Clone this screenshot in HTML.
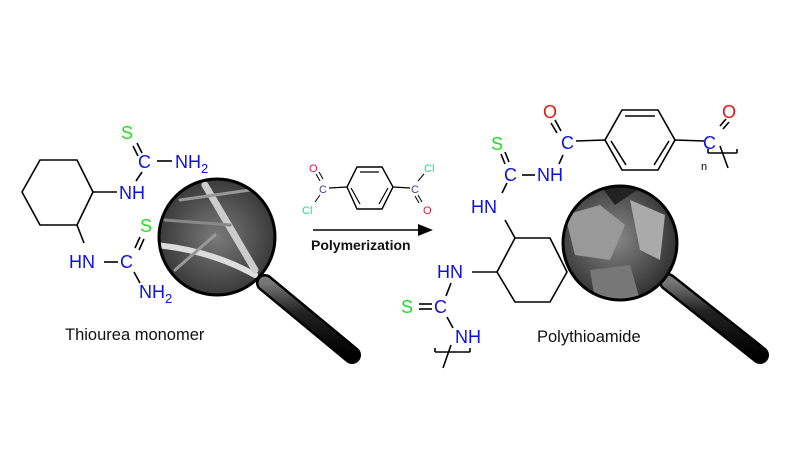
<!DOCTYPE html>
<html><head><meta charset="utf-8"><style>
html,body{margin:0;padding:0;background:#fff;}
svg{display:block}
text{font-family:"Liberation Sans",sans-serif}
</style></head><body>
<svg width="792" height="473" viewBox="0 0 792 473" xmlns="http://www.w3.org/2000/svg">
<defs>
<radialGradient id="g1" cx="50%" cy="50%" r="50%"><stop offset="0" stop-color="#7a7a7a"/><stop offset="1" stop-color="#3a3a3a"/></radialGradient>
<radialGradient id="g2" cx="45%" cy="45%" r="55%"><stop offset="0" stop-color="#8a8a8a"/><stop offset="1" stop-color="#333"/></radialGradient>
<linearGradient id="h" x1="0" y1="0" x2="0" y2="1"><stop offset="0" stop-color="#777"/><stop offset="0.4" stop-color="#222"/><stop offset="1" stop-color="#000"/></linearGradient>
<clipPath id="c1"><circle cx="217" cy="237" r="58"/></clipPath>
<clipPath id="c2"><circle cx="620" cy="243" r="57"/></clipPath>
</defs>
<g stroke="#000" stroke-width="1.6" fill="none">
<polygon points="22,192 40,160 77,160 93,192 77,225 40,225"/>
<line x1="93" y1="192" x2="117" y2="192"/>
<line x1="77" y1="225" x2="84" y2="243"/>
<line x1="136" y1="181" x2="142" y2="172"/>
<line x1="137" y1="143" x2="142" y2="153"/><line x1="133" y1="146" x2="138" y2="156"/>
<line x1="157" y1="161" x2="172" y2="161"/>
<line x1="104" y1="262" x2="118" y2="262"/>
<line x1="140" y1="237" x2="135" y2="248"/><line x1="144" y1="239" x2="139" y2="250"/>
<line x1="134" y1="272" x2="140" y2="283"/>
<polygon points="357,167 382,167 393,187 382,209 357,209 347,187" stroke-width="1.4"/>
<line x1="360" y1="172" x2="379" y2="172" stroke-width="1.2"/>
<line x1="388" y1="188" x2="379" y2="204" stroke-width="1.2"/>
<line x1="351" y1="188" x2="360" y2="204" stroke-width="1.2"/>
<line x1="329" y1="188" x2="347" y2="187" stroke-width="1.2"/>
<line x1="393" y1="187" x2="410" y2="188" stroke-width="1.2"/>
<line x1="316" y1="174" x2="320" y2="181" stroke-width="1"/><line x1="319" y1="172" x2="323" y2="179" stroke-width="1"/>
<line x1="320" y1="195" x2="315" y2="202" stroke-width="1"/>
<line x1="418" y1="181" x2="424" y2="174" stroke-width="1"/>
<line x1="418" y1="195" x2="422" y2="202" stroke-width="1"/><line x1="415" y1="196" x2="419" y2="203" stroke-width="1"/>
<line x1="313" y1="230" x2="422" y2="230"/>
<line x1="505" y1="152" x2="509" y2="162"/><line x1="501" y1="154" x2="505" y2="164"/>
<line x1="522" y1="175" x2="535" y2="175"/>
<line x1="559" y1="164" x2="563" y2="155"/>
<line x1="555" y1="120" x2="561" y2="131"/><line x1="551" y1="123" x2="557" y2="133"/>
<line x1="576" y1="141" x2="605" y2="140"/>
<polygon points="622,110 658,110 675,140 658,170 622,170 605,140"/>
<line x1="625" y1="116" x2="655" y2="116"/>
<line x1="669" y1="141" x2="654" y2="165"/>
<line x1="611" y1="141" x2="626" y2="165"/>
<line x1="675" y1="140" x2="704" y2="141"/>
<line x1="720" y1="126" x2="726" y2="119"/><line x1="723" y1="129" x2="729" y2="122"/>
<line x1="708" y1="153" x2="737" y2="153"/><line x1="708" y1="153" x2="708" y2="149"/><line x1="737" y1="153" x2="737" y2="149"/>
<line x1="720" y1="146" x2="728" y2="168"/>
<line x1="507" y1="183" x2="502" y2="193"/>
<line x1="505" y1="220" x2="515" y2="238"/>
<polygon points="515,238 550,238 567,272 550,302 515,302 497,272"/>
<line x1="472" y1="272" x2="497" y2="272"/>
<line x1="451" y1="283" x2="446" y2="296"/>
<line x1="419" y1="304" x2="432" y2="304"/><line x1="419" y1="309" x2="432" y2="309"/>
<line x1="447" y1="317" x2="453" y2="328"/>
<line x1="435" y1="352" x2="470" y2="352"/><line x1="435" y1="352" x2="435" y2="348"/><line x1="470" y1="352" x2="470" y2="348"/>
<line x1="451" y1="345" x2="443" y2="368"/>
</g>
<polygon points="433,230 418,224 418,236" fill="#000"/>
<line x1="265" y1="283" x2="352" y2="355" stroke="#000" stroke-width="18" stroke-linecap="round"/>
<line x1="265" y1="283" x2="352" y2="355" stroke="url(#h)" stroke-width="13" stroke-linecap="round"/>
<circle cx="217" cy="237" r="58" fill="url(#g1)"/>
<g clip-path="url(#c1)" stroke-linecap="round" fill="none">
<path d="M155,245 Q210,250 255,275" stroke="#ddd" stroke-width="6"/>
<path d="M205,185 L255,270" stroke="#ccc" stroke-width="7"/>
<path d="M180,200 L250,190" stroke="#999" stroke-width="3"/>
<path d="M165,220 L230,225" stroke="#888" stroke-width="3"/>
<path d="M175,270 L215,235" stroke="#999" stroke-width="3"/>
</g>
<circle cx="217" cy="237" r="58" fill="none" stroke="#000" stroke-width="3"/>
<line x1="668" y1="282" x2="760" y2="355" stroke="#000" stroke-width="18" stroke-linecap="round"/>
<line x1="668" y1="282" x2="760" y2="355" stroke="url(#h)" stroke-width="13" stroke-linecap="round"/>
<circle cx="620" cy="243" r="57" fill="url(#g2)"/>
<g clip-path="url(#c2)">
<path d="M565,215 L600,205 L625,225 L610,260 L575,255 Z" fill="#999"/>
<path d="M630,200 L665,215 L660,260 L640,250 Z" fill="#aaa"/>
<path d="M590,270 L630,265 L640,300 L595,300 Z" fill="#777"/>
<path d="M600,185 L640,188 L615,205 Z" fill="#222"/>
</g>
<circle cx="620" cy="243" r="57" fill="none" stroke="#000" stroke-width="3"/>
<g font-size="18" fill="#1010e0">
<text x="119" y="199">NH</text>
<text x="138" y="168">C</text>
<text x="175" y="168">NH<tspan font-size="13" dy="5">2</tspan></text>
<text x="69" y="268">HN</text>
<text x="120" y="268">C</text>
<text x="139" y="298">NH<tspan font-size="13" dy="5">2</tspan></text>
<text x="504" y="181">C</text>
<text x="537" y="181">NH</text>
<text x="561" y="149">C</text>
<text x="703" y="149">C</text>
<text x="471" y="213">HN</text>
<text x="437" y="278">HN</text>
<text x="434" y="313">C</text>
<text x="455" y="343">NH</text>
</g>
<g font-size="18" fill="#22dd22">
<text x="121" y="139">S</text>
<text x="140" y="232">S</text>
<text x="491" y="150">S</text>
<text x="401" y="313">S</text>
</g>
<g font-size="18" fill="#ee1111">
<text x="543" y="118">O</text>
<text x="722" y="118">O</text>
</g>
<g font-size="11">
<text x="309" y="172" fill="#ee1133">O</text>
<text x="319" y="193" fill="#404090">C</text>
<text x="302" y="214" fill="#22dd88">Cl</text>
<text x="411" y="193" fill="#404090">C</text>
<text x="424" y="172" fill="#22dd88">Cl</text>
<text x="423" y="214" fill="#ee1133">O</text>
</g>
<text x="701" y="170" font-size="11" fill="#000">n</text>
<text x="311" y="250" font-size="14" font-weight="bold" fill="#111">Polymerization</text>
<text x="65" y="340" font-size="16.5" fill="#111">Thiourea monomer</text>
<text x="537" y="342" font-size="16.5" fill="#111">Polythioamide</text>
</svg>
</body></html>
